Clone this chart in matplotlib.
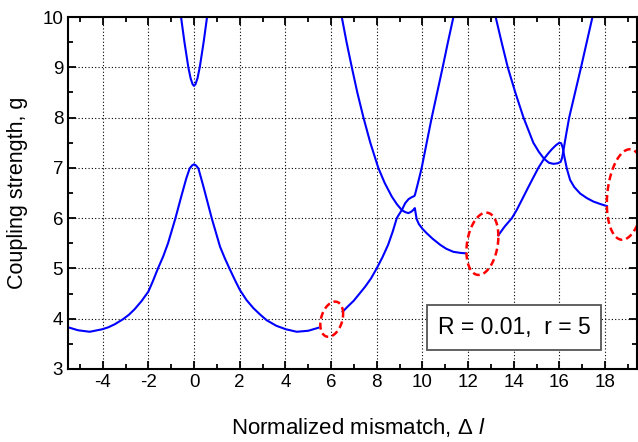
import numpy as np
import matplotlib
matplotlib.use('Agg')
import matplotlib.pyplot as plt
from matplotlib.ticker import MultipleLocator

plt.rcParams['font.family'] = ['Liberation Sans', 'DejaVu Sans']
plt.rcParams['axes.unicode_minus'] = False
plt.rcParams['mathtext.fontset'] = 'custom'
plt.rcParams['mathtext.rm'] = 'Liberation Sans'
plt.rcParams['mathtext.it'] = 'Liberation Sans:italic'

# lower branch, peaked at zero mismatch
a_x = [-5.52, -5.08, -4.57, -4.02, -3.75, -3.47, -3.11, -2.85, -2.6, -2.3,
       -2.0, -1.8, -1.58, -1.35, -1.14, -0.82, -0.56, -0.34, -0.19, -0.08,
       0.0, 0.08, 0.19, 0.41, 0.78, 1.14, 1.35, 1.55, 1.8, 2.01, 2.3, 2.6,
       2.9, 3.18, 3.6, 4.02, 4.5, 5.0, 5.45]
a_y = [3.83, 3.77, 3.74, 3.79, 3.83, 3.89, 3.99, 4.08, 4.19, 4.35,
       4.54, 4.75, 5.0, 5.24, 5.5, 5.99, 6.43, 6.79, 6.99, 7.05,
       7.07, 7.05, 6.99, 6.63, 5.99, 5.43, 5.2, 5.0, 4.76, 4.57, 4.37, 4.21,
       4.08, 3.97, 3.86, 3.79, 3.74, 3.76, 3.82]

# upper branch near zero
b_x = [-0.6, -0.57, -0.42, -0.25, -0.15, -0.06, 0.0, 0.06, 0.15, 0.25,
       0.42, 0.57, 0.6]
b_y = [10.15, 10.0, 9.5, 9.0, 8.78, 8.66, 8.63, 8.66, 8.78, 9.0,
       9.5, 10.0, 10.15]

# falling branch around 6..12
c_x = [6.42, 6.47, 6.68, 6.91, 7.15, 7.42, 7.72, 8.07, 8.35, 8.66, 8.88,
       9.1, 9.25, 9.39, 9.52, 9.62, 9.67, 9.75, 9.85, 10.0, 10.19, 10.45,
       10.78, 11.05, 11.36, 11.65, 11.9]
c_y = [10.15, 10.0, 9.5, 9.0, 8.5, 8.0, 7.5, 7.0, 6.7, 6.43, 6.28,
       6.16, 6.12, 6.10, 6.13, 6.17, 6.20, 5.98, 5.88, 5.79, 5.70, 5.59,
       5.47, 5.39, 5.33, 5.31, 5.30]

# rising branch around 6..11
d_x = [6.51, 6.75, 7.0, 7.25, 7.5, 7.75, 8.0, 8.25, 8.5, 8.7, 8.88, 9.0,
       9.1, 9.25, 9.4, 9.55, 9.65, 9.68, 9.82, 9.97, 10.19, 10.41, 10.65,
       10.89, 11.12, 11.36, 11.42]
d_y = [4.14, 4.25, 4.36, 4.5, 4.64, 4.8, 5.0, 5.22, 5.47, 5.73, 6.0, 6.09,
       6.16, 6.30, 6.38, 6.42, 6.44, 6.47, 6.72, 7.0, 7.5, 8.0, 8.5,
       9.0, 9.5, 10.0, 10.15]

# rising branch around 13..18
e_x = [13.33, 13.6, 13.92, 14.13, 14.4, 14.6, 14.85, 15.08, 15.33, 15.5,
       15.67, 15.85, 16.0, 16.08, 16.15, 16.22, 16.33, 16.47, 16.65, 16.91,
       17.2, 17.49, 17.8, 18.08]
e_y = [5.66, 5.83, 6.0, 6.16, 6.4, 6.58, 6.8, 7.0, 7.18, 7.28,
       7.37, 7.45, 7.5, 7.49, 7.4, 7.22, 6.98, 6.76, 6.62, 6.49,
       6.4, 6.33, 6.28, 6.24]

# falling branch around 13..17
f_x = [13.17, 13.21, 13.47, 13.74, 14.07, 14.43, 14.86, 15.1, 15.33, 15.55,
       15.74, 15.92, 16.06, 16.12, 16.18, 16.3, 16.43, 16.69, 16.95, 17.2,
       17.45, 17.5]
f_y = [10.15, 10.0, 9.5, 9.0, 8.5, 8.0, 7.5, 7.32, 7.18, 7.10,
       7.08, 7.09, 7.12, 7.2, 7.35, 7.67, 8.0, 8.5, 9.0, 9.5,
       10.0, 10.1]

# red dashed markers: centre, half extents, x-y correlation
ell_cx = [6.03, 12.63, 18.92]
ell_cy = [3.99, 5.49, 6.47]
ell_rx = [0.50, 0.70, 0.84]
ell_ry = [0.35, 0.62, 0.90]
ell_corr = [0.3, 0.24, 0.2]

label_text = 'R = 0.01,  r = 5'


def main():
    fig = plt.figure(figsize=(6.38, 4.42), dpi=100)
    ax = fig.add_axes([0.1066, 0.1652, 0.8918, 0.7963])

    for xs, ys in [(a_x, a_y), (b_x, b_y), (c_x, c_y),
                   (d_x, d_y), (e_x, e_y), (f_x, f_y)]:
        ax.plot(xs, ys, color='#0000ff', linewidth=1.5,
                solid_joinstyle='round')

    t = np.linspace(0, 2 * np.pi, 200)
    for i in range(len(ell_cx)):
        phi = np.arccos(ell_corr[i])
        ex = ell_cx[i] + ell_rx[i] * np.cos(t)
        ey = ell_cy[i] + ell_ry[i] * np.cos(t - phi)
        ax.plot(ex, ey, color='#ff0000', linewidth=1.8,
                linestyle=(0, (2.8, 1.6)))

    ax.set_xlim(-5.52, 19.4)
    ax.set_ylim(3, 10)
    ax.xaxis.set_major_locator(MultipleLocator(2))
    ax.xaxis.set_minor_locator(MultipleLocator(1))
    ax.yaxis.set_major_locator(MultipleLocator(1))
    ax.yaxis.set_minor_locator(MultipleLocator(0.5))
    ax.grid(True, which='major', color='black', linestyle=(0, (1, 2)),
            linewidth=0.8)
    ax.tick_params(which='both', direction='in', top=True, right=True,
                   width=1.3, labelsize=13.5)
    ax.tick_params(which='major', length=6)
    ax.tick_params(which='minor', length=3.5)
    for s in ax.spines.values():
        s.set_linewidth(1.5)

    ax.set_xlabel(r'Normalized mismatch, $\Delta\ \mathit{l}$',
                  fontsize=16)
    ax.xaxis.set_label_coords(0.51, -0.133)
    ax.set_ylabel('Coupling strength, g', fontsize=15.5, labelpad=10)

    ax.text(14.02, 3.82, label_text, fontsize=16.5, ha='center',
            va='center',
            bbox=dict(boxstyle='square,pad=0.47', facecolor='white',
                      edgecolor='#555555', linewidth=1.3))

    fig.savefig('out.png', dpi=100)


if __name__ == '__main__':
    main()
